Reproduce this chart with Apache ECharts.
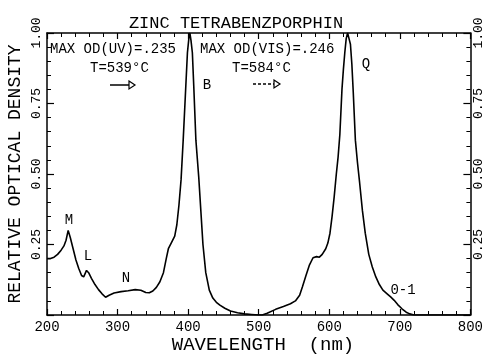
<!DOCTYPE html>
<html>
<head>
<meta charset="utf-8">
<script src="https://cdn.jsdelivr.net/npm/echarts@6/dist/echarts.min.js"></script>
<style>html,body{margin:0;padding:0;background:#fff}#c{width:486px;height:356px}</style>
</head>
<body>
<div id="c"></div>
<script>
var wavelength = [200,205,210,215,220,224,227,230,233,237,241,245,249,252,256,259,263,268,273,278,283,288,295,305,315,325,333,340,345,350,355,360,365,369,372,376,381,384,387,390,393,396,399,401,402.5,404,406,408,411,413,415,418,421,425,430,435,440,445,452,460,470,480,490,500,505,512,524,535,545,552,558,562,567,572,577,582,586,590,595,598,601,604,607,610,612.5,615,618,620,622,624,626,628,630,632,634,637,640,643,647,651,656,661,666,671,676,682,687,692,697,703,709,714,720,740,770,800];
var density = [0.20,0.20,0.205,0.215,0.23,0.245,0.265,0.30,0.275,0.235,0.195,0.165,0.14,0.135,0.158,0.15,0.13,0.108,0.09,0.075,0.063,0.07,0.078,0.083,0.086,0.09,0.088,0.08,0.079,0.085,0.098,0.118,0.15,0.2,0.235,0.255,0.28,0.32,0.39,0.48,0.62,0.775,0.93,0.98,1.0,0.975,0.93,0.81,0.62,0.555,0.49,0.37,0.25,0.15,0.088,0.06,0.045,0.035,0.024,0.014,0.008,0.004,0.002,0.0,0.0,0.006,0.02,0.03,0.04,0.05,0.07,0.1,0.14,0.178,0.203,0.207,0.205,0.215,0.235,0.255,0.29,0.35,0.42,0.5,0.56,0.64,0.8,0.87,0.93,0.98,1.0,0.98,0.96,0.89,0.79,0.62,0.54,0.47,0.37,0.29,0.215,0.17,0.135,0.108,0.088,0.075,0.064,0.052,0.037,0.022,0.01,0.004,0.0,0,0,0];
var yTickLabels = ['', '0.25', '0.50', '0.75', '1.00'];
var chartTitle = 'ZINC TETRABENZPORPHIN';
var xTitle = 'WAVELENGTH  (nm)';
var yTitle = 'RELATIVE OPTICAL DENSITY';

var FONT = '"Liberation Mono", "DejaVu Sans Mono", monospace';
var chart = echarts.init(document.getElementById('c'), null, {renderer: 'canvas'});

function xAx(pos, showLabel) {
  return {
    type: 'value', position: pos, min: 200, max: 800, interval: 100,
    axisLine: {show: true, onZero: false, lineStyle: {color: '#000', width: 1.5}},
    axisTick: {show: true, inside: true, length: 6, lineStyle: {color: '#000', width: 1.2}},
    minorTick: {show: true, splitNumber: 5, length: 4, lineStyle: {color: '#000', width: 1}},
    axisLabel: {show: showLabel, color: '#000', fontFamily: FONT, fontSize: 14, margin: 5},
    splitLine: {show: false}
  };
}
function yAx(pos) {
  return {
    type: 'value', position: pos, min: 0, max: 1, interval: 0.25,
    axisLine: {show: true, onZero: false, lineStyle: {color: '#000', width: 1.5}},
    axisTick: {show: true, inside: true, length: 7, lineStyle: {color: '#000', width: 1.2}},
    minorTick: {show: true, splitNumber: 5, length: 4, lineStyle: {color: '#000', width: 1}},
    axisLabel: {show: true, rotate: 90, color: '#000', fontFamily: FONT, fontSize: 13, margin: pos === 'left' ? 4 : 2,
      formatter: function (v) { return yTickLabels[Math.round(v / 0.25)]; }},
    splitLine: {show: false}
  };
}

function txt(x, y, s, size, align) {
  return {type: 'text', x: x, y: y, style: {text: s, fill: '#000', font: size + 'px ' + FONT, textAlign: align || 'left', textVerticalAlign: 'middle'}};
}

chart.setOption({
  animation: false,
  grid: {left: 47, right: 15, top: 33, bottom: 41},
  xAxis: [xAx('bottom', true), xAx('top', false)],
  yAxis: [yAx('left'), yAx('right')],
  series: [{
    type: 'line', xAxisIndex: 0, yAxisIndex: 0,
    data: wavelength.map(function (w, i) { return [w, density[i]]; }),
    showSymbol: false, smooth: false,
    lineStyle: {color: '#000', width: 1.6}
  }],
  graphic: [
    txt(236, 23, chartTitle, 17, 'center'),
    {type: 'text', x: 15, y: 174, rotation: Math.PI / 2,
      style: {text: yTitle, fill: '#000', font: '18px ' + FONT, textAlign: 'center', textVerticalAlign: 'middle'}},
    txt(263, 345, xTitle, 19, 'center'),
    txt(50, 49, 'MAX OD(UV)=.235', 14, 'left'),
    txt(90, 68, 'T=539°C', 14, 'left'),
    {type: 'line', shape: {x1: 110, y1: 85, x2: 129, y2: 85}, style: {stroke: '#000', lineWidth: 1.5}},
    {type: 'polygon', shape: {points: [[129, 81], [135, 85], [129, 89]]}, style: {stroke: '#000', fill: 'none', lineWidth: 1.2}},
    txt(207, 85, 'B', 14, 'center'),
    txt(200, 49, 'MAX OD(VIS)=.246', 14, 'left'),
    txt(232, 68, 'T=584°C', 14, 'left'),
    {type: 'line', shape: {x1: 253, y1: 84, x2: 274, y2: 84}, style: {stroke: '#000', lineWidth: 1.3, lineDash: [3, 2]}},
    {type: 'polygon', shape: {points: [[274, 80], [280, 84], [274, 88]]}, style: {stroke: '#000', fill: 'none', lineWidth: 1.2}},
    txt(366, 64, 'Q', 14, 'center'),
    txt(69, 220, 'M', 14, 'center'),
    txt(88, 256, 'L', 14, 'center'),
    txt(126, 278, 'N', 14, 'center'),
    txt(403, 290, '0-1', 14, 'center')
  ]
});
</script>
</body>
</html>
